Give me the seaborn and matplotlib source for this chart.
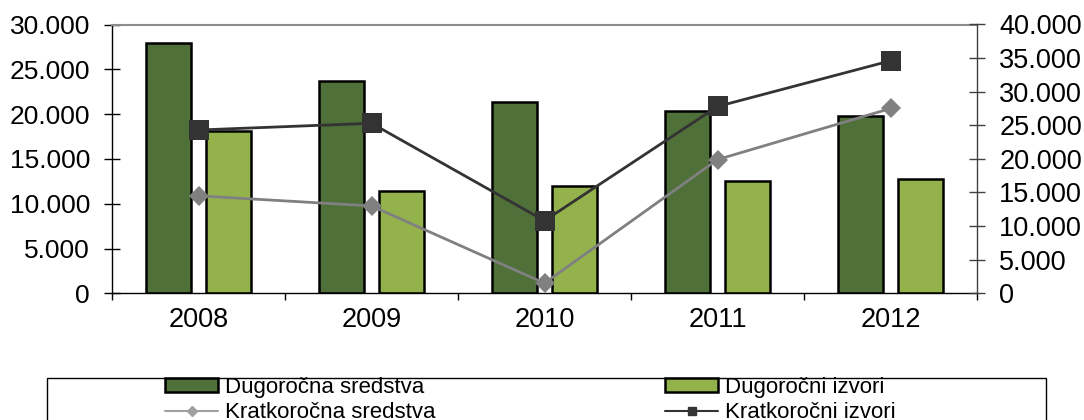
import numpy as np
import pandas as pd
import seaborn as sns
import matplotlib.pyplot as plt
from matplotlib.ticker import FuncFormatter, MultipleLocator
from matplotlib.lines import Line2D
from matplotlib.patches import Patch, Rectangle

# data
years = ['2008', '2009', '2010', '2011', '2012']
dug_sredstva = [27900, 23700, 21300, 20300, 19800]
dug_izvori = [18100, 11400, 12000, 12500, 12800]
krat_sredstva = [14500, 13000, 1500, 19900, 27500]
krat_izvori = [24300, 25300, 10800, 27800, 34600]

DARK = '#50703a'
LIGHT = '#93b24b'
GRAY = '#808080'
BLACKISH = '#333333'

sns.set_theme(style='white')
plt.rcParams['font.family'] = ['Liberation Sans', 'DejaVu Sans']
plt.rcParams['text.color'] = 'black'
plt.rcParams['xtick.color'] = 'black'
plt.rcParams['ytick.color'] = 'black'

bars_df = pd.DataFrame({
    'godina': years * 2,
    'iznos': dug_sredstva + dug_izvori,
    'serija': ['Dugoročna sredstva'] * 5 + ['Dugoročni izvori'] * 5,
})


def dot_thousands(v, pos):
    return f"{int(round(v)):,}".replace(',', '.')


fig = plt.figure(figsize=(10.84, 4.2), dpi=100)
ax = fig.add_axes([112 / 1084, 1 - 293.3 / 420, 865 / 1084, 268.8 / 420])

sns.barplot(data=bars_df, x='godina', y='iznos', hue='serija',
            palette=[DARK, LIGHT], width=0.685, gap=0.24, saturation=1,
            edgecolor='black', linewidth=1.8, ax=ax, legend=False)

ax2 = ax.twinx()
idx = np.arange(len(years))
sns.lineplot(x=idx, y=krat_sredstva, ax=ax2, color=GRAY, marker='D',
             markersize=10.5, markeredgewidth=0, linewidth=2)
sns.lineplot(x=idx, y=krat_izvori, ax=ax2, color=BLACKISH, marker='s',
             markersize=14.5, markeredgewidth=0, linewidth=2)

# x axis: ticks on the category borders, labels in the middle
ax.set_xlim(-0.5, 4.5)
ax.set_xticks(np.arange(-0.5, 5, 1.0), [''] * 6)
ax.set_xticks(idx, years, minor=True)
ax.tick_params(axis='x', which='major', direction='out', length=5, width=1, bottom=True)
ax.tick_params(axis='x', which='minor', length=0, pad=10, labelsize=19.5)
ax.set_xlabel('')
ax.set_ylabel('')

# left axis
ax.set_ylim(0, 30000)
ax.yaxis.set_major_locator(MultipleLocator(5000))
ax.yaxis.set_major_formatter(FuncFormatter(dot_thousands))
ax.tick_params(axis='y', direction='inout', length=11.5, width=1, pad=10,
               labelsize=19, left=True)

# right axis
ax2.set_ylim(0, 40000)
ax2.yaxis.set_major_locator(MultipleLocator(5000))
ax2.yaxis.set_major_formatter(FuncFormatter(dot_thousands))
ax2.tick_params(axis='y', direction='inout', length=12, width=1, pad=10,
                labelsize=19.5, right=True, color='#404040')
ax2.set_ylabel('')

for s in ['top', 'left', 'bottom']:
    ax2.spines[s].set_visible(False)
ax2.spines['right'].set_color('#404040')
ax2.spines['right'].set_linewidth(1)
ax.spines['right'].set_visible(False)
ax.spines['top'].set_color('#8c8c8c')
ax.spines['top'].set_linewidth(1.5)
ax.spines['left'].set_color('black')
ax.spines['bottom'].set_color('black')
ax.spines['left'].set_linewidth(1)
ax.spines['bottom'].set_linewidth(1)

# legend frame running off the bottom of the picture
fig.add_artist(Rectangle((47 / 1084, -0.1), 999 / 1084, 0.1 + 1 - 378 / 420,
                         transform=fig.transFigure, fill=False,
                         edgecolor='black', linewidth=1))

leg_kw = dict(loc='upper left', frameon=False, borderpad=0, borderaxespad=0,
              handlelength=2.4, handleheight=0.55, handletextpad=0.3,
              labelspacing=0.2, fontsize=16)

h_ds = Patch(facecolor=DARK, edgecolor='black', linewidth=1.8)
h_di = Patch(facecolor=LIGHT, edgecolor='black', linewidth=1.8)
h_ks = Line2D([], [], color='#a0a0a0', marker='D', markersize=5, linewidth=1.5)
h_ki = Line2D([], [], color=BLACKISH, marker='s', markersize=6, linewidth=1.5)

fig.legend(handles=[h_ds, h_ks], labels=['Dugoročna sredstva', 'Kratkoročna sredstva'],
           bbox_to_anchor=(165 / 1084, 1 - 377 / 420), **leg_kw)
fig.legend(handles=[h_di, h_ki], labels=['Dugoročni izvori', 'Kratkoročni izvori'],
           bbox_to_anchor=(665 / 1084, 1 - 377 / 420), **leg_kw)

fig.savefig('out.png', dpi=100)
